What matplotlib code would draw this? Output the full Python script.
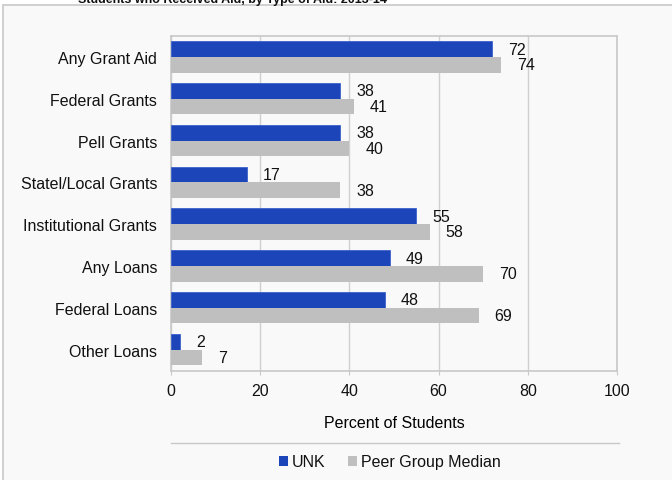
import matplotlib
matplotlib.use("Agg")
import matplotlib.pyplot as plt
import numpy as np
from matplotlib.patches import Rectangle, Patch
from matplotlib.lines import Line2D

BLUE = "#1B45B9"
GREY = "#BFBFBF"
GRID = "#D0D0D0"
FRAME = "#C8C8C8"
PANEL = "#F9F9F9"
INK = "#111111"
FS = 11.5

plt.rcParams.update({
    "font.family": ["Liberation Sans", "DejaVu Sans"],
    "font.size": FS,
    "text.color": INK,
})

categories = ["Any Grant Aid", "Federal Grants", "Pell Grants", "Statel/Local Grants",
              "Institutional Grants", "Any Loans", "Federal Loans", "Other Loans"]
unk = [72, 38, 38, 17, 55, 49, 48, 2]
peer = [74, 41, 40, 38, 58, 70, 69, 7]
x_ticks = [0, 20, 40, 60, 80, 100]

W, H = 672, 481
fig = plt.figure(figsize=(W / 100, H / 100), dpi=100)
fig.patch.set_facecolor("white")

# outer chart panel, kept behind the axes
fig.patches.append(Rectangle((3 / W, -0.1), 1.2, 1.1 - 6 / H, transform=fig.transFigure,
                             facecolor=PANEL, edgecolor=FRAME, linewidth=1.2, zorder=-5))

# title, clipped at the top edge
fig.text(232 / W, 1 - 3.5 / H, "Students who Received Aid, by Type of Aid: 2013-14",
         ha="center", va="baseline", fontsize=9, fontweight="bold")

ax = fig.add_axes([171 / W, (H - 371.5) / H, (617 - 171) / W, (371.5 - 37) / H])
ax.set_facecolor(PANEL)

y = np.arange(len(categories))
bh = 0.375
ax.barh(y - bh / 2, unk, bh, color=BLUE, edgecolor="#3C62CC", linewidth=0.6, zorder=3)
ax.barh(y + bh / 2, peer, bh, color=GREY, edgecolor="none", zorder=3)

for yi, u, p in zip(y, unk, peer):
    ax.annotate(f"{u}", (u, yi - bh / 2), textcoords="offset points", xytext=(11.5, 0),
                ha="left", va="center", fontsize=FS)
    ax.annotate(f"{p}", (p, yi + bh / 2), textcoords="offset points", xytext=(11.5, 0),
                ha="left", va="center", fontsize=FS)

ax.set_xlim(0, 100)
ax.set_ylim(len(categories) - 0.5, -0.5)
ax.set_xticks(x_ticks)
ax.set_yticks(y)
ax.set_yticklabels(categories)
ax.tick_params(axis="y", length=0, pad=10, labelsize=FS, colors=INK)
ax.tick_params(axis="x", length=3, color=FRAME, pad=6, labelsize=FS, colors=INK)
ax.grid(axis="x", color=GRID, linewidth=1)
ax.set_axisbelow(True)
for s in ax.spines.values():
    s.set_color(FRAME)
    s.set_linewidth(1.2)
ax.set_xlabel("Percent of Students", fontsize=FS, labelpad=12)

# separator above the legend
fig.add_artist(Line2D([171 / W, 619 / W], [1 - 444 / H, 1 - 444 / H],
                      color=FRAME, linewidth=1, transform=fig.transFigure))

handles = [Patch(facecolor=BLUE, edgecolor="none", label="UNK"),
           Patch(facecolor=GREY, edgecolor="none", label="Peer Group Median")]
fig.legend(handles=handles, loc="center", bbox_to_anchor=(390 / W, 1 - 463 / H),
           ncol=2, frameon=False, fontsize=FS, handlelength=0.55, handleheight=0.55,
           handletextpad=0.25, columnspacing=1.4)

fig.savefig("out.png", dpi=100, facecolor="white")
